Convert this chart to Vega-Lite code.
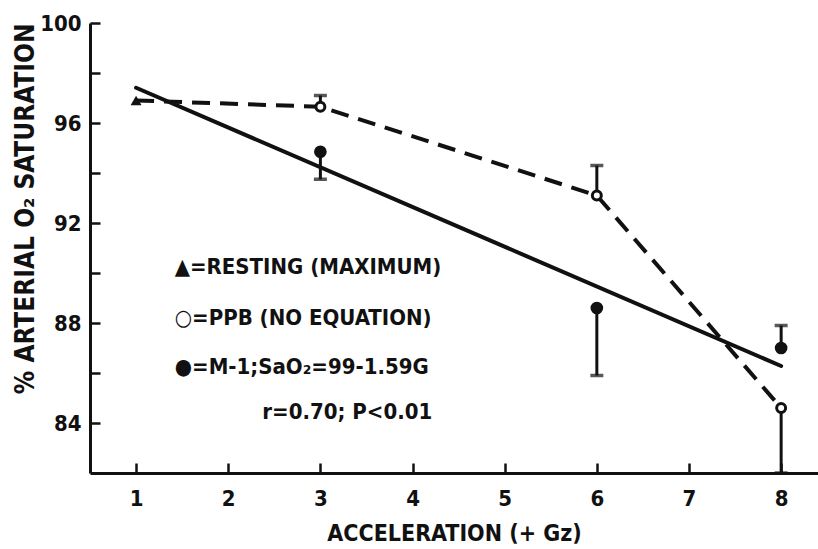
{
  "$schema": "https://vega.github.io/schema/vega-lite/v6.json",
  "width": 728,
  "height": 450,
  "autosize": {"type": "none"},
  "padding": {"left": 90, "top": 23, "right": 0, "bottom": 76},
  "background": "white",
  "config": {
    "view": {"stroke": null},
    "font": "DejaVu Sans Condensed",
    "axis": {
      "domainColor": "#111",
      "domainWidth": 3,
      "tickColor": "#111",
      "tickWidth": 2.5,
      "tickSize": -10,
      "grid": false,
      "labelFont": "DejaVu Sans Condensed",
      "labelFontWeight": "bold",
      "labelFontSize": 22,
      "labelColor": "#111",
      "titleFont": "DejaVu Sans Condensed",
      "titleFontWeight": "bold",
      "titleColor": "#111"
    }
  },
  "datasets": {
    "ppb": [
      {"x": 3, "y": 96.65},
      {"x": 6, "y": 93.1},
      {"x": 8, "y": 84.6}
    ],
    "ppbLine": [
      {"x": 1, "y": 96.9},
      {"x": 3, "y": 96.65},
      {"x": 6, "y": 93.1},
      {"x": 8, "y": 84.6}
    ],
    "m1": [
      {"x": 3, "y": 94.85},
      {"x": 6, "y": 88.6},
      {"x": 8, "y": 87.0}
    ],
    "fit": [
      {"x": 1, "y": 97.41},
      {"x": 8, "y": 86.28}
    ],
    "rest": [
      {"x": 1, "y": 96.9}
    ],
    "err": [
      {"x": 3, "y": 96.65, "y2": 97.1},
      {"x": 6, "y": 93.1, "y2": 94.3},
      {"x": 8, "y": 84.6, "y2": 82.0},
      {"x": 3, "y": 94.85, "y2": 93.75},
      {"x": 6, "y": 88.6, "y2": 85.9},
      {"x": 8, "y": 87.0, "y2": 87.9}
    ],
    "key": [
      {"x": 1.42, "y": 90.24, "label": "▲=RESTING (MAXIMUM)"},
      {"x": 1.42, "y": 88.2, "label": "○=PPB (NO EQUATION)"},
      {"x": 1.42, "y": 86.24, "label": "●=M-1;SaO₂=99-1.59G"},
      {"x": 2.37, "y": 84.45, "label": "r=0.70; P<0.01"}
    ]
  },
  "encoding": {
    "x": {
      "field": "x",
      "type": "quantitative",
      "scale": {"domain": [0.5, 8.4], "nice": false, "zero": false},
      "axis": {
        "values": [1, 2, 3, 4, 5, 6, 7, 8],
        "labelPadding": 25,
        "title": "ACCELERATION (+ Gz)",
        "titleFontSize": 23,
        "titlePadding": 13
      }
    },
    "y": {
      "field": "y",
      "type": "quantitative",
      "scale": {"domain": [82, 100], "nice": false, "zero": false},
      "axis": {
        "values": [84, 86, 88, 90, 92, 94, 96, 98, 100],
        "labelExpr": "datum.value % 4 == 0 ? datum.label : ''",
        "labelPadding": 19,
        "title": "% ARTERIAL O₂ SATURATION",
        "titleFontSize": 26,
        "titleAnchor": "end",
        "titlePadding": 1
      }
    }
  },
  "layer": [
    {
      "data": {"name": "fit"},
      "mark": {"type": "line", "color": "#111", "strokeWidth": 4, "strokeCap": "round"}
    },
    {
      "data": {"name": "ppbLine"},
      "mark": {"type": "line", "color": "#111", "strokeWidth": 4, "strokeDash": [18, 10]}
    },
    {
      "data": {"name": "err"},
      "mark": {"type": "rule", "color": "#111", "strokeWidth": 3},
      "encoding": {"y2": {"field": "y2"}}
    },
    {
      "data": {"name": "err"},
      "mark": {"type": "tick", "orient": "horizontal", "color": "#111", "thickness": 3.5, "size": 13},
      "encoding": {"y": {"field": "y2", "type": "quantitative"}}
    },
    {
      "data": {"name": "m1"},
      "mark": {"type": "point", "shape": "circle", "filled": true, "color": "#111", "size": 160, "opacity": 1}
    },
    {
      "data": {"name": "ppb"},
      "mark": {"type": "point", "shape": "circle", "filled": true, "fill": "white", "stroke": "#111", "strokeWidth": 3, "size": 80, "opacity": 1}
    },
    {
      "data": {"name": "rest"},
      "mark": {"type": "point", "shape": "triangle-up", "filled": true, "color": "#111", "size": 120, "opacity": 1}
    },
    {
      "data": {"name": "key"},
      "mark": {"type": "text", "align": "left", "baseline": "middle", "fontSize": 22, "fontWeight": "bold", "color": "#111", "font": "DejaVu Sans Condensed"},
      "encoding": {"text": {"field": "label"}}
    }
  ]
}
